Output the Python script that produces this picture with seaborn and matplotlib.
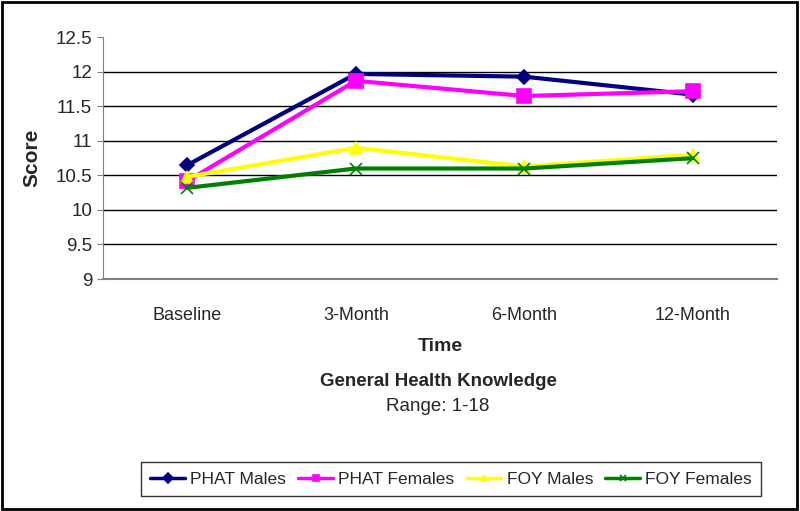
import pandas as pd
import matplotlib.pyplot as plt
import seaborn as sns

times = ['Baseline', '3-Month', '6-Month', '12-Month']
groups = ['PHAT Males', 'PHAT Females', 'FOY Males', 'FOY Females']
phat_males = [10.65, 11.97, 11.93, 11.67]
phat_females = [10.42, 11.87, 11.65, 11.72]
foy_males = [10.48, 10.90, 10.63, 10.80]
foy_females = [10.32, 10.60, 10.60, 10.75]

rows = []
for g, vals in zip(groups, [phat_males, phat_females, foy_males, foy_females]):
    for i, v in enumerate(vals):
        rows.append({'Time': i, 'Score': v, 'Group': g})
df = pd.DataFrame(rows)

sns.set_style('white')
plt.rcParams['font.family'] = ['Liberation Sans', 'DejaVu Sans']

fig = plt.figure(figsize=(8, 5.11), dpi=100)
ax = fig.add_axes([0.129, 0.454, 0.842, 0.473])

palette = {'PHAT Males': '#000080', 'PHAT Females': '#FF00FF',
           'FOY Males': '#FFFF00', 'FOY Females': '#008000'}
markers = {'PHAT Males': 'D', 'PHAT Females': 's',
           'FOY Males': '^', 'FOY Females': 'x'}
sizes = {'PHAT Males': 7, 'PHAT Females': 10, 'FOY Males': 9, 'FOY Females': 8}

for g in groups:
    sub = df[df['Group'] == g]
    sns.lineplot(data=sub, x='Time', y='Score', ax=ax, color=palette[g],
                 marker=markers[g], markersize=sizes[g], linewidth=3,
                 markeredgecolor=palette[g], markeredgewidth=1.2, label=g,
                 legend=False)

ax.set_xlim(-0.5, 3.5)
ax.set_ylim(9, 12.5)
ax.set_yticks([9, 9.5, 10, 10.5, 11, 11.5, 12, 12.5])
ax.set_yticklabels(['9', '9.5', '10', '10.5', '11', '11.5', '12', '12.5'], fontsize=13.5)
ax.set_xticks(range(4))
ax.set_xticklabels(times, fontsize=13)
ax.set_xticks([-0.5, 0.5, 1.5, 2.5, 3.5], minor=True)
ax.tick_params(axis='x', which='major', length=0, pad=20)
ax.tick_params(axis='x', which='minor', length=5, color='#808080', direction='out')
ax.tick_params(axis='y', length=4, color='#808080', direction='out', left=True, pad=4)

for y in [9.5, 10, 10.5, 11, 11.5, 12]:
    ax.axhline(y, color='black', linewidth=1, zorder=0)

for s in ['top', 'right']:
    ax.spines[s].set_visible(False)
ax.spines['left'].set_color('#808080')
ax.spines['bottom'].set_color('#808080')
ax.spines['bottom'].set_linewidth(1.5)

ax.set_ylabel('Score', fontsize=15, fontweight='bold', labelpad=10)
ax.set_xlabel('Time', fontsize=14, fontweight='bold', labelpad=10)

fig.text(0.5475, 0.254, 'General Health Knowledge', ha='center', va='center',
         fontsize=13.5, fontweight='bold')
fig.text(0.5475, 0.205, 'Range: 1-18', ha='center', va='center', fontsize=13.5)

handles, labels = ax.get_legend_handles_labels()
leg = fig.legend(handles, labels, loc='center', bbox_to_anchor=(0.564, 0.062),
                 ncol=4, fontsize=12.5, frameon=True, fancybox=False,
                 edgecolor='black', handlelength=2.0, columnspacing=0.7,
                 handletextpad=0.3, borderpad=0.55)
for h in leg.legend_handles:
    h.set_linewidth(2.5)
    h.set_markersize(5)
leg.get_frame().set_linewidth(1)

fig.patches.append(plt.Rectangle((0.002, 0.004), 0.994, 0.992, transform=fig.transFigure,
                                 fill=False, edgecolor='black', linewidth=2))

fig.savefig('out.png', dpi=100)
